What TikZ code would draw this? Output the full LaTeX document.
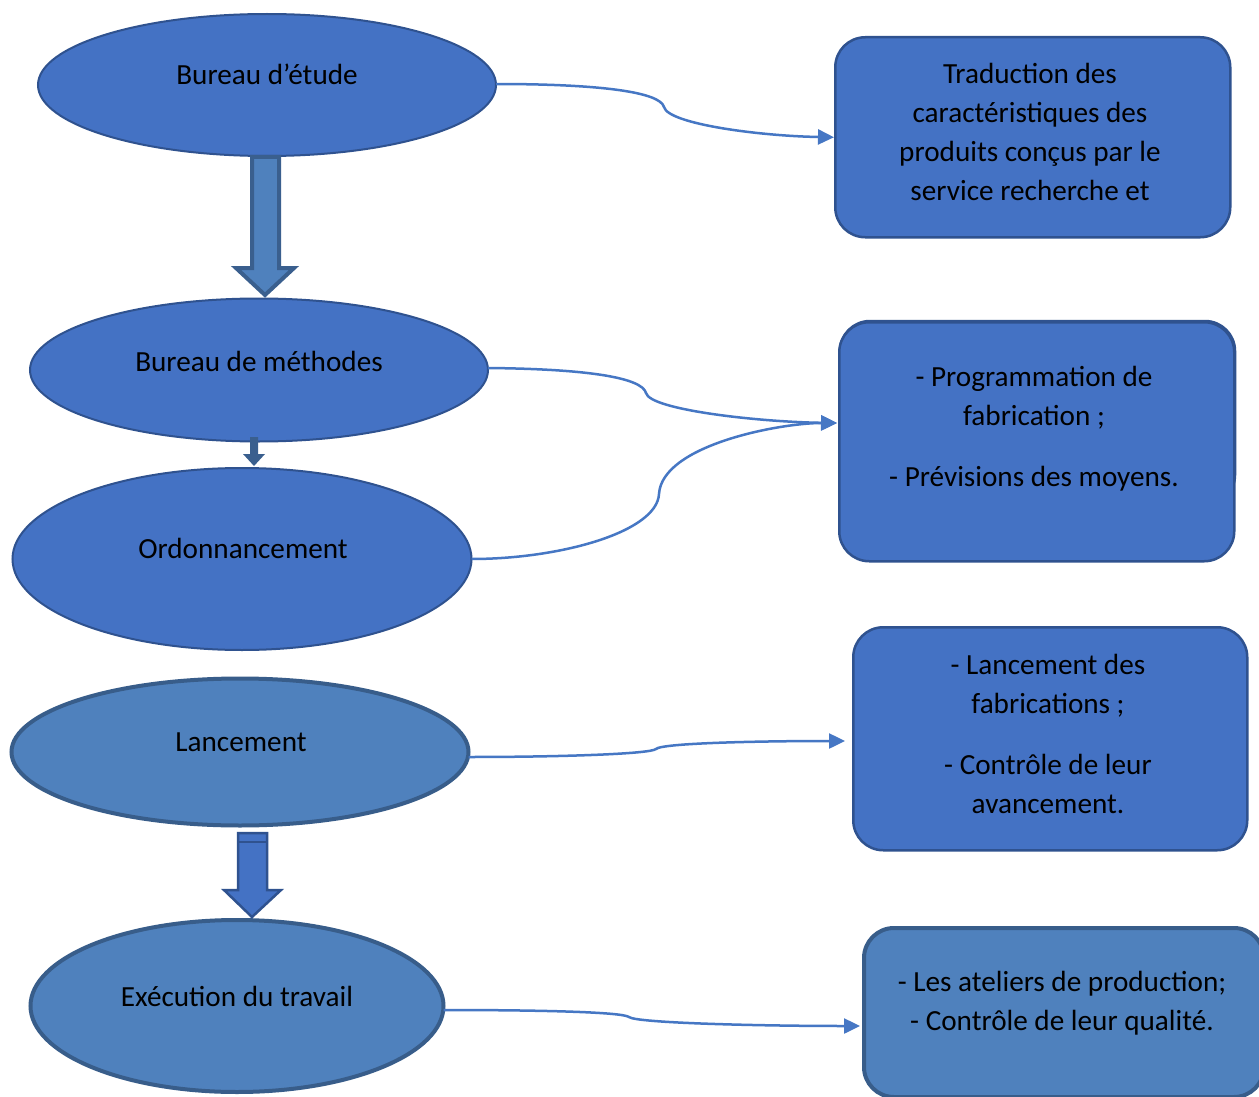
\documentclass[tikz,border=0pt]{standalone}
\usepackage{fontspec}
\setmainfont{Carlito}
\usetikzlibrary{arrows.meta,shapes.geometric}
\definecolor{fillA}{HTML}{4472C4}
\definecolor{lineA}{HTML}{2F528F}
\definecolor{fillB}{HTML}{4F81BD}
\definecolor{lineB}{HTML}{385D8A}
\definecolor{arrowline}{HTML}{3A5F8E}
\definecolor{conn}{HTML}{4677C4}
\tikzset{
  ovalA/.style={ellipse, draw=lineA, fill=fillA, line width=2pt, inner sep=0pt, outer sep=0pt},
  ovalB/.style={ellipse, draw=lineB, fill=fillB, line width=4pt, inner sep=0pt, outer sep=0pt},
  boxA/.style={draw=lineA, fill=fillA, line width=2.5pt, rounded corners=30pt},
  boxB/.style={draw=lineB, fill=fillB, line width=4pt, rounded corners=30pt},
  lbl/.style={font=\fontsize{29.2}{39}\selectfont, align=center, inner sep=0pt, text=black},
  link/.style={draw=conn, line width=2.5pt, -{Triangle[length=16pt,width=15pt]}},
}
\begin{document}
\begin{tikzpicture}[x=1pt,y=-1pt]
\useasboundingbox (0,0) rectangle (1259,1097);
\clip (0,0) rectangle (1259,1097);
\fill[white] (0,0) rectangle (1259,1097);

% left column: the stages
\node[ovalA, minimum width=458pt, minimum height=142pt] (e1) at (267,85) {};
\node[ovalA, minimum width=458pt, minimum height=143pt] (e2) at (259,370) {};
\node[ovalA, minimum width=459pt, minimum height=182pt] (e3) at (242,559) {};
\node[ovalB, minimum width=457pt, minimum height=147pt] (e4) at (240,752) {};
\node[ovalB, minimum width=413pt, minimum height=172pt] (e5) at (237,1006) {};

\node[lbl] (t1) at (267,74) {Bureau d’étude};
\node[lbl] (t2) at (259,361) {Bureau de méthodes};
\node[lbl] (t3) at (243,548) {Ordonnancement};
\node[lbl] (t4) at (241,742) {Lancement};
\node[lbl] (t5) at (237,996) {Exécution du travail};

% block arrows between the stages
\draw[draw=arrowline, fill=fillB, line width=4pt, line join=miter]
  (252,157) -- (279,157) -- (279,268) -- (294,268) -- (265,295)
  -- (236,268) -- (252,268) -- cycle;
\fill[arrowline] (250,437) -- (258,437) -- (258,454) -- (265,454)
  -- (254,466) -- (243,454) -- (250,454) -- cycle;
\draw[draw=lineA, fill=fillA, line width=2.5pt, line join=miter]
  (238,833) -- (267,833) -- (267,890) -- (281,890) -- (252,917)
  -- (224,890) -- (238,890) -- cycle;
\draw[draw=lineA, line width=2.5pt] (238,842) -- (267,842);

% right column: the tasks
\draw[boxA] (840,321) rectangle (1235,505);
\node[boxA, minimum width=395pt, minimum height=200pt, anchor=north west] (b1) at (834,36) {};
\node[boxA, minimum width=395pt, minimum height=239pt, anchor=north west] (b2) at (838,321) {};
\node[boxA, minimum width=394pt, minimum height=223pt, anchor=north west] (b3) at (852,626) {};
\node[boxB, minimum width=400pt, minimum height=169pt, anchor=north west] (b4) at (862,926) {};

\node[lbl] (s1) at (1030,132) {Traduction des\\caractéristiques des\\produits conçus par le\\service recherche et};
\node[lbl] (s2) at (1034,429) {- Programmation de\\fabrication ;\\[22pt]- Prévisions des moyens.};
\node[lbl] (s3) at (1048,734) {- Lancement des\\fabrications ;\\[22pt]- Contrôle de leur\\avancement.};
\node[lbl] (s4) at (1062,1003) {- Les ateliers de production;\\- Contrôle de leur qualité.};

% connectors
\coordinate (in2) at (837,423);
\coordinate (in3) at (845,741);
\coordinate (in4) at (860,1026);
\draw[link] ([yshift=1pt]e1.east) .. controls (600,84) and (660,92) .. (664,107)
  .. controls (668,124) and (760,136) .. (b1.west);
\draw[link] ([yshift=2pt]e2.east) .. controls (590,369) and (642,378) .. (646,393)
  .. controls (650,410) and (760,422) .. (in2);
\draw[link] (e3.east) .. controls (560,559) and (657,532) .. (659,494)
  .. controls (662,445) and (780,423) .. (in2);
\draw[link] ([yshift=-5pt]e4.east) .. controls (560,757) and (650,754) .. (656,749)
  .. controls (662,743) and (760,741) .. (in3);
\draw[link] ([yshift=-4pt]e5.east) .. controls (540,1010) and (622,1012) .. (629,1017)
  .. controls (636,1023) and (760,1026) .. (in4);
\end{tikzpicture}
\end{document}
